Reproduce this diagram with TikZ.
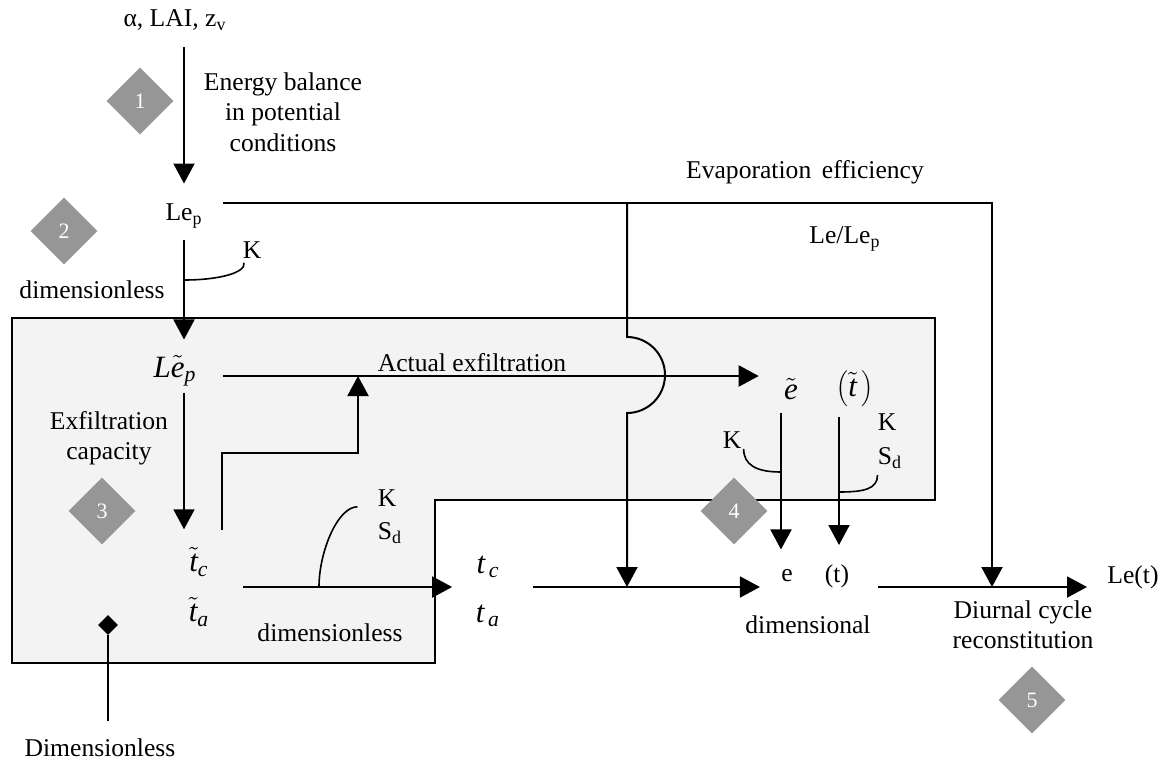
\documentclass[tikz,border=0pt]{standalone}
\usepackage{fontspec}
\setmainfont{Liberation Serif}
\usetikzlibrary{arrows.meta,shapes.geometric,calc}
\definecolor{stagegray}{RGB}{150,150,150}
\definecolor{boxgray}{RGB}{243,243,243}

\begin{document}
\begin{tikzpicture}[x=0.5pt, y=-0.5pt,
    font=\fontsize{12.8}{15.2}\selectfont,
    lbl/.style={inner sep=0pt, align=center},
    sym/.style={lbl, font=\fontsize{15.5}{18}\selectfont},
    stage/.style={diamond, fill=stagegray, text=white, inner sep=0pt,
                  minimum width=33.5pt, minimum height=33.5pt,
                  font=\fontsize{11}{13}\selectfont},
    arr/.style={-{Triangle[length=10pt, width=10.5pt]}, line width=1pt},
    link/.style={line width=1pt},
    hook/.style={line width=0.8pt}
]
\useasboundingbox (0,0) rectangle (1163,762);

\draw[link, fill=boxgray] (12,318) -- (935,318) -- (935,500) -- (435,500)
    -- (435,663) -- (12,663) -- cycle;

\node[lbl] (inputs) at (175,20) {α, LAI, z\textsubscript{v}};
\node[lbl] (lep) at (184,216) {Le\textsubscript{p}};
\node[lbl] (energy) at (283,112) {Energy balance\\in potential\\conditions};
\node[lbl] (dimtop) at (92,290) {dimensionless};
\node[lbl] (kone) at (252,250) {K};
\node[lbl] (evap) at (805,172) {Evaporation\, efficiency};
\node[lbl] (ratio) at (845,239) {Le/Le\textsubscript{p}};

\node[sym] (lept) at (175,371) {$\mathit{L}\tilde{\mathit{e}}_{\mathit{p}}$};
\node[lbl] (actual) at (472,363) {Actual exfiltration};
\node[lbl] (capacity) at (109,438) {Exfiltration\\capacity};
\node[sym] (tcl) at (199,562) {$\tilde{\mathit{t}}_{\mathit{c}}$};
\node[sym] (tal) at (199,612) {$\tilde{\mathit{t}}_{\mathit{a}}$};
\node[lbl] (ktwo) at (387,498) {K};
\node[lbl] (sdtwo) at (390,533) {S\textsubscript{d}};
\node[lbl] (dimlow) at (330,633) {dimensionless};
\node[sym] (tcd) at (488,567) {$\mathit{t}_{\,\mathit{c}}$};
\node[sym] (tad) at (488,616) {$\mathit{t}_{\,\mathit{a}}$};

\node[sym] (etil) at (791,389) {$\tilde{\mathit{e}}$};
\node[sym] (ttil) at (855,389) {$\left(\tilde{\mathit{t}}\,\right)$};
\node[lbl] (kthree) at (732,440) {K};
\node[lbl] (kfour) at (887,422) {K};
\node[lbl] (sdfour) at (890,458) {S\textsubscript{d}};
\node[lbl] (edim) at (787,576) {e};
\node[lbl] (tdim) at (837,576) {(t)};
\node[lbl] (dimal) at (808,625) {dimensional};
\node[lbl] (let) at (1133,577) {Le(t)};
\node[lbl] (diurnal) at (1023,625) {Diurnal cycle\\reconstitution};
\node[lbl] (dimcap) at (100,748) {Dimensionless};
\node[diamond, fill=black, inner sep=0pt, minimum width=10pt,
      minimum height=10pt] (mark) at (108,625) {};

\node[stage] (s1) at (140,101) {1};
\node[stage] (s2) at (64,231) {2};
\node[stage] (s3) at (102,511) {3};
\node[stage] (s4) at (734,511) {4};
\node[stage] (s5) at (1032,700) {5};

\coordinate (dimpath) at ($(tcl.east)!0.5!(tal.east)$);
\coordinate (branch) at (627,203);
\coordinate (evapturn) at (992,203);
\coordinate (jumptop) at (627,337);
\coordinate (exfil) at (358,376);
\coordinate (upbend) at (222,453);
\coordinate (kfoot) at (184,280);
\coordinate (sdfoot) at (319,587);
\coordinate (ktouch) at (781,472);
\coordinate (sdtouch) at (839,492);

\draw[arr, shorten <=8pt, shorten >=10pt] (inputs.south -| lep) -- (lep.north);
\draw[arr, shorten <=6pt, shorten >=8pt] (lep.south) -- (lep.south |- lept.north);
\draw[arr, shorten <=10pt] (lep.east |- branch) -- (evapturn) -- (evapturn |- dimpath);
\draw[arr] (branch) -- (jumptop) arc[start angle=-90, end angle=90, radius=38]
    -- (branch |- dimpath);

\draw[arr, shorten <=13pt, shorten >=12.5pt] (lept.east |- exfil) -- (etil.west |- exfil);
\draw[arr, shorten <=3pt, shorten >=9pt] (lept.south -| lep) -- (tcl.north -| lep);
\draw[arr, shorten <=8.5pt] (upbend |- tcl.north) -- (upbend) -| (exfil);
\draw[arr, shorten <=17pt, shorten >=12pt] (dimpath) -- (dimpath -| tcd.west);
\draw[arr, shorten <=16.5pt, shorten >=10.5pt] (dimpath -| tcd.east) -- (dimpath -| edim.west);
\draw[arr, shorten <=6.5pt, shorten >=10pt] (ktouch |- etil.south) -- (ktouch |- edim.north);
\draw[arr, shorten <=5pt, shorten >=9.5pt] (sdtouch |- ttil.south) -- (sdtouch |- tdim.north);
\draw[arr, shorten <=14.5pt, shorten >=10pt] (dimpath -| tdim.east) -- (dimpath -| let.west);

\draw[hook] (kfoot) .. controls +(35,0) and +(2,10) .. ([xshift=-4pt,yshift=-2pt]kone.south);
\draw[hook] (sdfoot) .. controls +(0,-35) and +(-20,0) .. ([xshift=-10pt]sdtwo.west |- ktwo.south);
\draw[hook] ([xshift=1pt]kthree.south east) .. controls +(0,16) and +(-25,0) .. (ktouch);
\draw[hook] ([yshift=-3pt]sdfour.south west) .. controls +(0,14) and +(25,0) .. (sdtouch);

\draw[link] (mark) -- ([yshift=9pt]mark |- dimcap.north);
\end{tikzpicture}
\end{document}
